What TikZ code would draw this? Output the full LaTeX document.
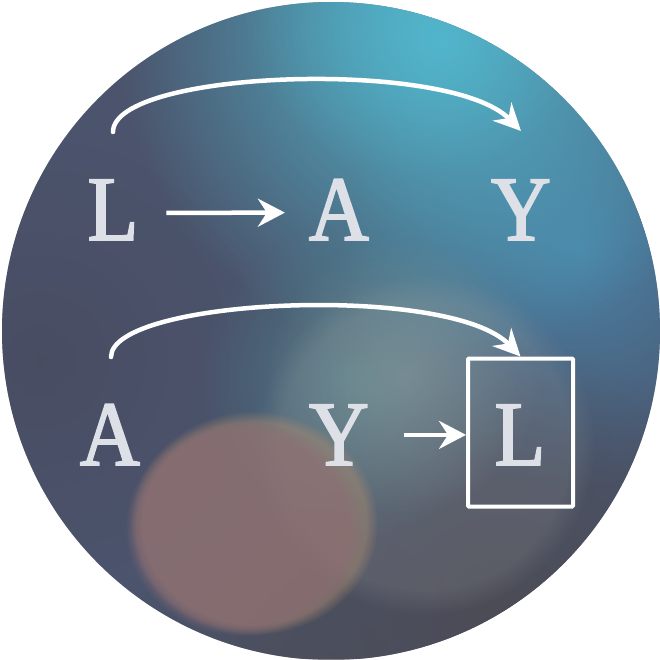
\documentclass[tikz,border=0pt]{standalone}
\usepackage{fontspec}
\setmainfont{Liberation Serif}[FakeStretch=0.9,FakeBold=2]
\usetikzlibrary{arrows.meta,fadings,shapes.geometric}
\tikzfading[name=softglow, inner color=transparent!0, outer color=transparent!100]
\definecolor{base}{HTML}{4B546C}
\definecolor{tealglow}{HTML}{52B6CC}
\definecolor{blueglow}{HTML}{4A80A4}
\definecolor{darkleft}{HTML}{484B60}
\definecolor{darkbottom}{HTML}{4C4C55}
\definecolor{pinkblob}{HTML}{8E6C74}
\definecolor{orangeblob}{HTML}{A88A70}
\definecolor{whiteblob}{HTML}{A4A8A6}
\definecolor{ringteal}{HTML}{4F9399}
\definecolor{lettercol}{HTML}{DDE0E6}
\tikzset{
  letter/.style={text=lettercol, font=\fontsize{92}{92}\selectfont, inner sep=0pt, anchor=base},
  arr/.style={draw=white, line width=4.5pt, -{Stealth[length=27pt, width=28pt, inset=9pt]}},
  curvearr/.style={draw=white, line width=4.5pt, line cap=round, -{Stealth[length=27pt, width=26pt, inset=9pt]}},
  boxstyle/.style={draw=white, line width=4pt, rounded corners=1pt, minimum width=105pt, minimum height=148pt, inner sep=0pt}
}
\begin{document}
\begin{tikzpicture}[x=1pt, y=-1pt]
\useasboundingbox (0,0) rectangle (660,659);
% background disc
\begin{scope}
  \clip (331,331) circle (329);
  \fill[base] (0,0) rectangle (660,659);
  \fill[blueglow, path fading=softglow] (580,250) circle (240);
  \fill[tealglow, path fading=softglow] (440,40) circle (320);
  \fill[tealglow, path fading=softglow, opacity=0.6] (420,0) circle (180);
  \fill[darkleft, path fading=softglow, opacity=0.8] (40,360) circle (220);
  \fill[darkbottom, path fading=softglow] (500,620) circle (280);
  \fill[darkbottom, path fading=softglow, opacity=0.8] (300,720) circle (200);
  \fill[ringteal, path fading=softglow, opacity=0.6] (360,380) circle (160);
  \fill[whiteblob, path fading=circle with fuzzy edge 15 percent, opacity=0.18] (425,445) circle (170);
  \fill[whiteblob, path fading=softglow, opacity=0.38] (405,375) circle (140);
  \fill[orangeblob, path fading=circle with fuzzy edge 10 percent, opacity=0.5] (254,523) ellipse (124 and 112);
  \fill[pinkblob, path fading=circle with fuzzy edge 10 percent, opacity=0.55] (243,528) ellipse (118 and 108);
\end{scope}
% top row
\node[letter] (L1) at (113,240) {L};
\node[letter] (A1) at (339,240) {A};
\node[letter] (Y1) at (521,240) {Y};
\coordinate (c1s) at (113,132);
\coordinate (c1e) at (521,131);
\draw[arr] ([xshift=28pt,yshift=-3pt]L1.east) -- ([xshift=-24pt,yshift=-3pt]A1.west);
\draw[curvearr] (c1s) .. controls (113,70) and (450,58) .. (c1e);
% bottom row
\node[letter] (A2) at (110,465) {A};
\node[letter] (Y2) at (339,465) {Y};
\node[boxstyle] (box) at (520.5,432.5) {};
\node[letter] (L2) at (520,465) {L};
\coordinate (c2s) at (111,357);
\draw[arr] ([xshift=35pt]Y2.east) -- (box.west |- Y2.east);
\draw[curvearr] (c2s) .. controls (111,298) and (450,283) .. (box.north);
\end{tikzpicture}
\end{document}
